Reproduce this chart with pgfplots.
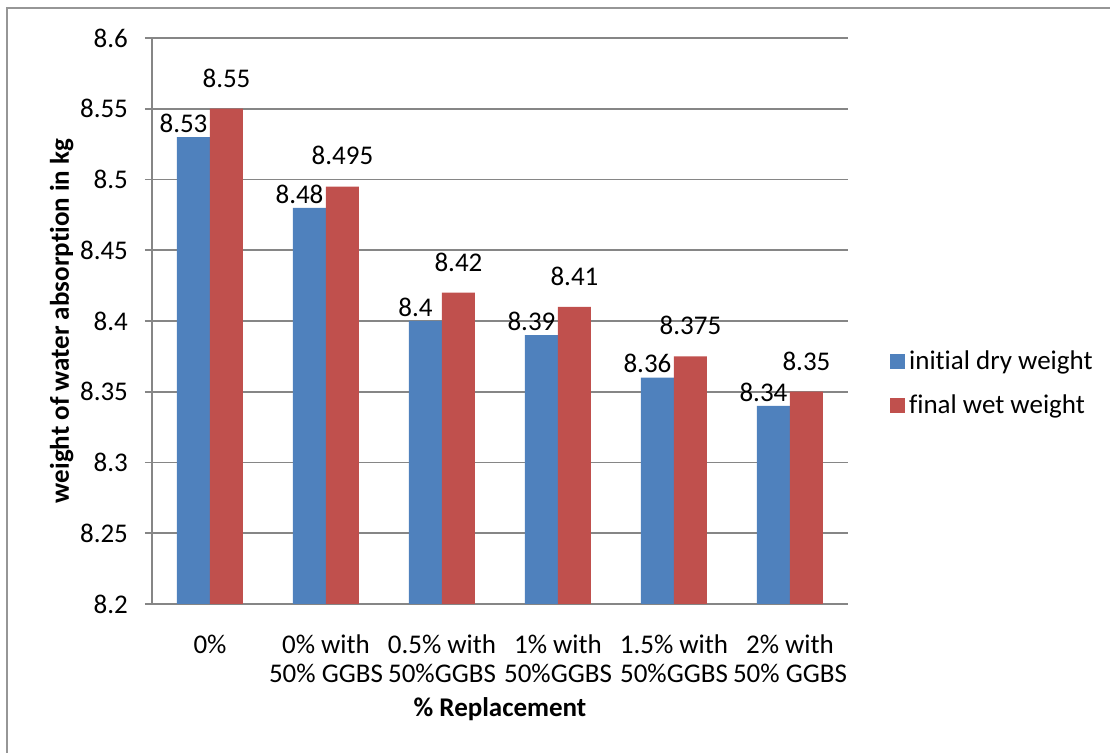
\documentclass[border=0pt]{standalone}
\usepackage{pgfplots}
\pgfplotsset{compat=1.18}
\usepackage{fontspec}
\setmainfont[Ligatures=NoCommon]{Carlito}
\definecolor{barblue}{RGB}{79,129,189}
\definecolor{barred}{RGB}{192,80,77}
\definecolor{gridgray}{RGB}{134,134,134}
\definecolor{framegray}{RGB}{150,150,150}
\begin{document}
\begin{tikzpicture}
\useasboundingbox (0,0) rectangle (555pt,376.5pt);
\draw[framegray, line width=1.2pt] (3.5pt,-5pt) -- (3.5pt,372.5pt) -- (560pt,372.5pt);
\begin{axis}[
  at={(76pt,74.5pt)}, anchor=south west,
  scale only axis, width=348pt, height=283pt,
  font=\fontsize{13.5}{16}\selectfont,
  /pgf/number format/assume math mode=true,
  ybar=0pt, bar width=16.5pt,
  xmin=-0.5, xmax=5.5, ymin=8.2, ymax=8.6,
  ytick={8.2,8.25,...,8.61},
  yticklabels={8.2,8.25,8.3,8.35,8.4,8.45,8.5,8.55,8.6},
  yticklabel style={xshift=-5pt},
  xtick={0,1,2,3,4,5},
  xticklabels={0\%, {0\% with\\50\% GGBS}, {0.5\% with\\50\%GGBS}, {1\% with\\50\%GGBS}, {1.5\% with\\50\%GGBS}, {2\% with\\50\% GGBS}},
  xticklabel style={align=center, yshift=-8.5pt, font=\fontsize{13.5}{14.5}\selectfont},
  extra x ticks={-0.5,0.5,1.5,2.5,3.5,4.5,5.5},
  extra x tick labels={},
  extra x tick style={major tick length=4pt, tick align=outside, grid=none, tick style={gridgray, line width=0.8pt}},
  major x tick style={draw=none},
  major y tick style={gridgray, line width=0.8pt},
  tick align=outside, major tick length=3.5pt,
  axis x line*=bottom, axis y line*=left,
  axis line style={gridgray, line width=0.8pt, -},
  ymajorgrids, grid style={gridgray, line width=0.8pt},
  xlabel={\bfseries \% Replacement},
  ylabel={\bfseries weight of water absorption in kg},
  xlabel style={yshift=7pt},
  ylabel style={yshift=-3.5pt},
  nodes near coords,
  point meta=y,
  nodes near coords style={/pgf/number format/.cd, fixed, precision=3, assume math mode=true, /tikz/.cd, font=\fontsize{13.5}{16}\selectfont, inner sep=0pt, anchor=south},
  legend style={at={(1.06,0.389)}, anchor=west, draw=none, fill=none, font=\fontsize{13.5}{16}\selectfont, row sep=7pt, inner sep=0pt},
  legend cell align=left,
  legend image code/.code={\fill[#1] (0pt,-3.75pt) rectangle (7.5pt,3.75pt);},
  clip=true,
]
\addplot[fill=barblue, draw=none, nodes near coords style={xshift=-5pt, yshift=2pt}] coordinates {(0,8.53) (1,8.48) (2,8.40) (3,8.39) (4,8.36) (5,8.34)};
\addplot[fill=barred, draw=none, nodes near coords style={yshift=10.5pt}] coordinates {(0,8.55) (1,8.495) (2,8.42) (3,8.41) (4,8.375) (5,8.35)};
\legend{initial dry weight, final wet weight}
\end{axis}
\end{tikzpicture}
\end{document}
